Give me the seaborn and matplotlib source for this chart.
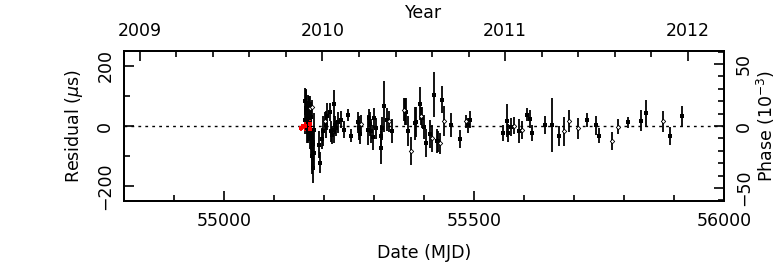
import numpy as np
import pandas as pd
import matplotlib
matplotlib.use("Agg")
import matplotlib.pyplot as plt
import seaborn as sns
from matplotlib.ticker import MultipleLocator, FixedLocator

# ---------------- data ----------------
red_mjd = [55154, 55159, 55163, 55172, 55173]
red_res = [-7, -1, 1, 8, -10]
red_err = [8, 8, 19, 13, 10]

mjd = [55162, 55163, 55164, 55165, 55166, 55167, 55168, 55169, 55170, 55171,
       55172, 55173, 55174, 55175, 55176, 55177, 55177, 55178, 55179, 55180,
       55181, 55191, 55193, 55197, 55199, 55202, 55205, 55207, 55213, 55215,
       55217, 55220, 55221, 55223, 55225, 55229, 55234, 55240, 55249, 55254,
       55269, 55271, 55273, 55275, 55289, 55291, 55292, 55294, 55299, 55301,
       55304, 55314, 55315, 55316, 55321, 55327, 55330, 55337, 55361, 55363,
       55365, 55369, 55375, 55383, 55385, 55393, 55395, 55397, 55401, 55405,
       55412, 55416, 55421, 55426, 55429, 55433, 55437, 55441, 55455, 55473,
       55484, 55489, 55492, 55559, 55567, 55569, 55575, 55581, 55591, 55597,
       55607, 55612, 55617, 55642, 55657, 55671, 55680, 55691, 55709, 55727,
       55744, 55751, 55776, 55789, 55809, 55835, 55845, 55879, 55893, 55917]
res = [20, 82, 60, 54, -5, 27, 60, -12, 49, 10,
       60, -20, 30, -34, -73, -101, 62, -60, -140, -12,
       -90, -62, -123, -43, -18, 16, 4, 32, 46, -18,
       -29, 74, -12, 5, -7, 12, 21, -12, 38, -32,
       12, -7, -26, 8, -12, 27, 8, -18, -37, 27,
       -7, -73, -34, -7, 66, 21, 16, -15, 54, 49,
       47, -18, -82, 10, 12, 74, 32, 27, -3, -57,
       -26, -40, 104, -49, -51, -57, 88, 18, 3, -42,
       16, 3, 21, -23, 18, -23, -3, 1, -15, -12,
       38, 23, -23, 3, 3, -32, -18, 16, -7, 21,
       3, -32, -51, -2, 12, 18, 43, 16, -32, 32]
err = [45, 45, 60, 70, 50, 55, 45, 45, 50, 60,
       40, 55, 50, 60, 60, 60, 25, 55, 50, 55,
       45, 45, 35, 35, 50, 30, 45, 45, 30, 35,
       30, 45, 45, 30, 25, 35, 28, 28, 20, 22,
       35, 40, 35, 30, 50, 30, 40, 40, 42, 33,
       35, 55, 38, 38, 85, 38, 35, 40, 38, 45,
       45, 50, 47, 55, 50, 55, 30, 35, 40, 47,
       47, 45, 75, 40, 35, 35, 45, 50, 40, 30,
       22, 25, 28, 28, 55, 30, 30, 28, 40, 30,
       22, 30, 28, 30, 90, 33, 47, 37, 35, 23,
       32, 24, 30, 25, 19, 35, 45, 35, 30, 35]
kind = ['s', 's', 's', 's', 's', 's', 's', 's', 's', 's',
        'd', 's', 's', 's', 's', 's', 'd', 's', 's', 's',
        's', 's', 's', 's', 's', 'd', 's', 's', 's', 's',
        's', 's', 's', 's', 's', 's', 's', 's', 's', 's',
        's', 's', 's', 'd', 's', 's', 's', 's', 's', 's',
        's', 's', 's', 's', 's', 's', 'd', 's', 'd', 's',
        's', 's', 'd', 's', 's', 's', 'd', 's', 's', 's',
        's', 'd', 's', 's', 's', 'd', 's', 'd', 's', 's',
        'd', 's', 's', 's', 's', 's', 's', 'd', 's', 'd',
        's', 's', 's', 's', 's', 's', 'd', 'd', 'd', 's',
        's', 's', 'd', 'd', 's', 's', 's', 'd', 's', 's']

year_ticks = [2009, 2010, 2011, 2012]
period_us = 4133.0  # spin period (us) linking residual to phase

# ---------------- figure ----------------
sns.set_style("white")
plt.rcParams['font.family'] = ['DejaVu Sans']
plt.rcParams['text.color'] = 'black'
plt.rcParams['axes.labelcolor'] = 'black'
plt.rcParams['xtick.color'] = 'black'
plt.rcParams['ytick.color'] = 'black'
plt.rcParams['xtick.labelcolor'] = 'black'
plt.rcParams['ytick.labelcolor'] = 'black'
FS = 12.5

fig = plt.figure(figsize=(7.78, 2.65), dpi=100)
ax = fig.add_axes([124/778, 64/265, 600/778, 150/265])

df = pd.DataFrame({"mjd": mjd, "res": res, "err": err, "kind": kind})
dfr = pd.DataFrame({"mjd": red_mjd, "res": red_res, "err": red_err})

ax.axhline(0, color='black', lw=1.0, ls=(0, (2, 3)), zorder=1)

ax.errorbar(df["mjd"], df["res"], yerr=df["err"], fmt='none',
            ecolor='black', elinewidth=1.3, capsize=0, zorder=2)
ax.errorbar(dfr["mjd"], dfr["res"], yerr=dfr["err"], fmt='none',
            ecolor='red', elinewidth=1.3, capsize=0, zorder=3)

sns.scatterplot(data=df[df.kind == 's'], x="mjd", y="res", marker='s',
                color='black', s=9, linewidth=0, ax=ax, zorder=4, legend=False)
sns.scatterplot(data=df[df.kind == 'd'], x="mjd", y="res", marker='D',
                facecolor='white', edgecolor='black', s=5, linewidth=0.6,
                ax=ax, zorder=4, legend=False)
sns.scatterplot(data=dfr, x="mjd", y="res", marker='s', color='red', s=7,
                linewidth=0, ax=ax, zorder=5, legend=False)

ax.set_xlim(54800, 56000)
ax.set_ylim(-250, 250)
for sp in ax.spines.values():
    sp.set_linewidth(1.2)
    sp.set_color('black')

ax.xaxis.set_major_locator(MultipleLocator(500))
ax.xaxis.set_minor_locator(MultipleLocator(100))
ax.yaxis.set_major_locator(MultipleLocator(200))
ax.yaxis.set_minor_locator(MultipleLocator(100))
ax.tick_params(axis='x', which='both', direction='in', top=False, bottom=True,
               width=1.2, color='black')
ax.tick_params(axis='x', which='major', length=7.5, pad=8, labelsize=FS)
ax.tick_params(axis='x', which='minor', length=4.5)
ax.tick_params(axis='y', which='both', direction='in', left=True, right=False,
               width=1.2, color='black')
ax.tick_params(axis='y', which='major', length=7, pad=7, labelsize=FS,
               labelrotation=90)
ax.tick_params(axis='y', which='minor', length=4)
for lab in ax.get_yticklabels():
    lab.set_verticalalignment('center')
ax.yaxis.set_major_formatter(matplotlib.ticker.FuncFormatter(
    lambda v, p: f"{int(v)}".replace('-', '\u2212')))
ax.set_xlabel("Date (MJD)", fontsize=FS, labelpad=10, color='black')
ax.set_ylabel(r"Residual ($\mu$s)", fontsize=FS, labelpad=8, color='black')

# right axis: phase
ax2 = ax.twinx()
ax2.set_ylim(-250 / period_us * 1000, 250 / period_us * 1000)
ax2.yaxis.set_major_locator(MultipleLocator(50))
ax2.yaxis.set_minor_locator(MultipleLocator(10))
ax2.tick_params(axis='y', which='both', direction='in', right=True, left=False,
                width=1.2, color='black')
ax2.tick_params(axis='y', which='major', length=7, pad=8, labelsize=FS,
                labelrotation=90)
ax2.tick_params(axis='y', which='minor', length=4)
ax2.yaxis.set_major_formatter(matplotlib.ticker.FuncFormatter(
    lambda v, p: f"{int(round(v))}".replace('-', '\u2212')))
for lab in ax2.get_yticklabels():
    lab.set_verticalalignment('center')
ax2.set_ylabel(r"Phase (10$^{-3}$)", fontsize=FS, rotation=90, labelpad=1,
               color='black')
for sp in ax2.spines.values():
    sp.set_linewidth(1.2)
    sp.set_color('black')

# top axis: year
def year_to_mjd(y):
    return 51544.5 + (y - 2000.0) * 365.25

ax3 = ax.twiny()
ax3.set_xlim(ax.get_xlim())
ax3.xaxis.set_major_locator(FixedLocator([year_to_mjd(y) for y in year_ticks]))
ax3.set_xticklabels([str(y) for y in year_ticks])
minor_years = [2008.8 + 0.2 * i for i in range(18)]
ax3.xaxis.set_minor_locator(FixedLocator([year_to_mjd(y) for y in minor_years]))
ax3.tick_params(axis='x', which='both', direction='in', top=True, bottom=False,
                width=1.2, color='black')
ax3.tick_params(axis='x', which='major', length=7.5, pad=8, labelsize=FS)
ax3.tick_params(axis='x', which='minor', length=4)
ax3.set_xlabel("Year", fontsize=FS, labelpad=3, color='black')
for sp in ax3.spines.values():
    sp.set_linewidth(1.2)
    sp.set_color('black')

fig.savefig("out.png", dpi=100, facecolor='white')
